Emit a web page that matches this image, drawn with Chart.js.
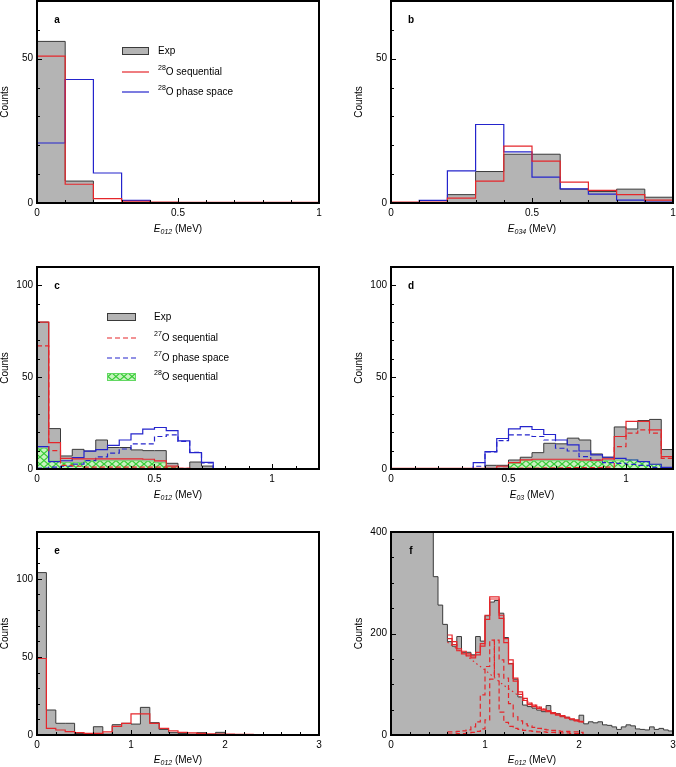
<!DOCTYPE html>
<html>
<head>
<meta charset="utf-8">
<script src="https://cdn.jsdelivr.net/npm/chart.js@4.4.1/dist/chart.umd.min.js"></script>
<style>
  html, body { margin: 0; padding: 0; background: #fff; }
  body { width: 676px; height: 767px; position: relative; overflow: hidden; }
  canvas { position: absolute; }
</style>
</head>
<body>
<canvas id="pa" width="338" height="240" style="left:0;top:0"></canvas>
<canvas id="pb" width="338" height="240" style="left:338px;top:0"></canvas>
<canvas id="pc" width="338" height="265" style="left:0;top:240px"></canvas>
<canvas id="pd" width="338" height="265" style="left:338px;top:240px"></canvas>
<canvas id="pe" width="338" height="262" style="left:0;top:505px"></canvas>
<canvas id="pf" width="338" height="262" style="left:338px;top:505px"></canvas>
<script>
// ---- data (counts per bin) ----
// a, b: 0.1 MeV bins from 0 to 1
const aExp = [56, 7.6, 0, 0, 0, 0, 0, 0, 0, 0];
const aSeq28 = [50.9, 6.5, 1.5, 0.6, 0.3, 0.2, 0.2, 0.2, 0.2, 0.2];
const aPhase28 = [20.8, 42.8, 10.4, 0.9, 0, 0, 0, 0, 0, 0];

const bExp = [0, 0, 2.9, 10.9, 16.9, 16.9, 4.8, 4.0, 4.8, 2.0];
const bSeq28 = [0.3, 0.3, 1.7, 7.6, 19.7, 14.5, 7.2, 4.4, 2.9, 1.0];
const bPhase28 = [0, 0.9, 11.1, 27.2, 17.7, 9.0, 4.9, 3.1, 1.0, 0.3];

// c, d: 0.05 MeV bins from 0 to 1.2
const cExp = [80, 22, 7.1, 10.7, 9.8, 15.8, 11.7, 11.7, 10.4, 10, 10, 3.1, 0, 3.8, 1.6, 0, 0, 0, 0, 0, 0, 0, 0, 0];
const cSeqSum = [80, 14.4, 5.8, 5.5, 5.5, 5.5, 5.5, 5.5, 5.5, 5.3, 4.4, 1.6, 0.3, 0.2, 0.2, 0.2, 0.2, 0.2, 0.2, 0.2, 0.2, 0.2, 0.2, 0.2];
const cSeq27 = [67, 10, 2, 1.5, 1, 1, 1, 1, 1, 1, 1, 0.6, 0.3, 0.2, 0.2, 0.2, 0.2, 0.2, 0.2, 0.2, 0.2, 0.2, 0.2, 0.2];
const cPhaseSum = [12.2, 4, 4.5, 6.2, 9.7, 10.5, 12.9, 15.8, 19.1, 21.7, 22.6, 20.9, 15.3, 8.9, 3.6, 0, 0, 0, 0, 0, 0, 0, 0, 0];
const cPhase27 = [0.5, 1, 1.5, 2.7, 4.6, 6.6, 8.6, 10.9, 13.7, 13.7, 17.7, 18.6, 15, 9, 3.3, 0, 0, 0, 0, 0, 0, 0, 0, 0];
const cSeq28 = [11.3, 4.4, 3.5, 3.5, 4.5, 4.5, 4.5, 4.5, 4.5, 4.3, 3.4, 1, 0, 0, 0, 0, 0, 0, 0, 0, 0, 0, 0, 0];

const dExp = [0, 0, 0, 0, 0, 0, 0, 0, 2, 2, 4.9, 6.4, 8.9, 14, 13.7, 16.8, 15.8, 8.2, 6.4, 22.9, 21.8, 26.4, 27, 10.6];
const dSeqSum = [0.3, 0.3, 0.3, 0.3, 0.3, 0.3, 0.3, 0.3, 0.3, 1.5, 3.5, 5, 5.3, 5.3, 5.3, 5.3, 5, 4.8, 5.5, 17.7, 25.9, 25.9, 21.3, 6.7];
const dSeq27 = [0.2, 0.2, 0.2, 0.2, 0.2, 0.2, 0.2, 0.2, 0.2, 0.3, 0.5, 0.5, 0.5, 0.6, 0.6, 0.7, 0.8, 0.8, 1, 12.2, 19.5, 21.3, 19.5, 5.8];
const dPhaseSum = [0, 0, 0, 0, 0, 0, 0, 3.5, 9.5, 16.6, 21.9, 23.1, 21.5, 18.8, 15.8, 13.1, 9.8, 7.7, 6.4, 5.8, 4.9, 4, 2.6, 0.9];
const dPhase27 = [0, 0, 0, 0, 0, 0, 0, 1.5, 9.3, 15.5, 18.6, 18.6, 17.7, 15.8, 11.3, 9.8, 6.7, 4.9, 3.5, 3.1, 2.5, 2, 0.9, 0.4];
const dSeq28 = [0, 0, 0, 0, 0, 0, 0, 0, 0, 0, 3, 4.5, 4.5, 4.5, 4.5, 4.5, 4.3, 4.2, 4.5, 4.8, 5, 4, 2.5, 0.5];

// e: 0.1 MeV bins from 0 to 3
const eExp = [104, 16, 7.5, 7.5, 1, 0.4, 5.3, 0.6, 6.6, 7.5, 7, 17.7, 7.9, 3.6, 1.5, 1, 0.5, 1.5, 0.3, 1.7, 0, 0, 0, 0, 0, 0, 0, 0, 0, 0];
const eSeq = [49, 4.3, 3.2, 2.1, 1.5, 1, 1, 2, 5.5, 7.5, 13.5, 13.5, 7.5, 4.3, 2.6, 1.7, 1.3, 1, 0.8, 0.6, 0.5, 0.4, 0.4, 0.3, 0.3, 0.3, 0.2, 0.2, 0.2, 0.2];

// f: 0.05 MeV bins from 0 to 3 (first bins run off the top of the axis)
const fExp = [560, 620, 640, 600, 560, 520, 480, 440, 410, 312, 256, 218, 184, 175, 194, 163, 163, 158, 194, 185,
  235, 262, 265, 240, 192, 141, 110, 75, 59, 56, 53, 49, 46, 58, 43, 42, 37, 35, 30, 29,
  39, 22, 26, 24, 26, 20, 19, 16, 11, 16, 20, 18, 12, 11, 10, 16, 11, 13, 10, 8];
// fits: 0.05 MeV bins from 0.6 to 2.05
const fFit1 = [197, 184, 170, 165, 160, 156, 163, 180, 236, 272, 272, 236, 190, 148, 112, 85, 72, 63, 59, 55, 51, 48, 44, 41, 38, 35, 32, 30, 27];
const fFit2 = [190, 178, 166, 160, 156, 152, 158, 175, 228, 268, 268, 230, 182, 140, 106, 80, 68, 60, 56, 52, 49, 46, 42, 39, 36, 33, 31, 28, 26];
const fPeakA = [6, 6, 7, 8, 10, 16, 26, 79, 135, 187, 120, 45, 25, 17, 13, 11, 9, 8, 7, 6, 6, 5, 5, 4, 4, 4, 3, 3, 3];
const fPeakB = [2, 2, 3, 3, 4, 5, 7, 12, 30, 110, 187, 148, 112, 62, 36, 28, 22, 18, 15, 13, 11, 10, 9, 8, 7, 7, 6, 6, 5];
const fBkgE = [0.6, 0.7, 0.8, 0.9, 1.0, 1.1, 1.2, 1.3, 1.4, 1.5, 1.6, 1.7, 1.8, 1.9, 2.0, 2.05];
const fBkg = [183, 170, 157, 142, 128, 113, 98, 85, 72, 62, 53, 45, 38, 32, 27, 25];

// ---- styles ----
Chart.defaults.font.family = "'Liberation Sans', Arial, sans-serif";
Chart.defaults.font.size = 10;
Chart.defaults.color = '#000';

const RED = '#e5262b', BLUE = '#2424cc', GRAY = '#b4b4b4';

function makeHatch() {
  const t = document.createElement('canvas');
  t.width = 8; t.height = 7;
  const g = t.getContext('2d');
  g.fillStyle = '#c8f2c0';
  g.fillRect(0, 0, 8, 7);
  g.strokeStyle = '#35cc35';
  g.lineWidth = 1.2;
  g.beginPath();
  g.moveTo(0, 0); g.lineTo(8, 7);
  g.moveTo(8, 0); g.lineTo(0, 7);
  g.stroke();
  return g.createPattern(t, 'repeat');
}
const hatch = makeHatch();

const sExp = { borderColor: '#3a3a3a', borderWidth: 1, backgroundColor: GRAY, fill: 'origin' };
const sRed = { borderColor: RED };
const sRedD = { borderColor: RED, borderDash: [5, 3] };
const sBlue = { borderColor: BLUE };
const sBlueD = { borderColor: BLUE, borderDash: [5, 3] };
const sGreen = { borderColor: '#62d862', borderWidth: 0.8, backgroundColor: hatch, fill: 'origin' };

function hist(x0, dx, counts, style) {
  const data = counts.map((c, i) => ({ x: x0 + i * dx, y: c }));
  data.push({ x: x0 + counts.length * dx, y: counts[counts.length - 1] });
  return Object.assign({ data, stepped: true, fill: false, pointRadius: 0, borderWidth: 1.2 }, style);
}

const isMajor = (v, m) => Math.abs(v / m - Math.round(v / m)) < 1e-6;
const fmt = v => String(Math.round(v * 100) / 100);

const legendA = { sx: 122, sw: 27, tx: 158, rows: [
  { y: 51, kind: 'box', text: [['Exp']] },
  { y: 72, kind: 'line', color: RED, text: [['28', 1], ['O sequential']] },
  { y: 92, kind: 'line', color: BLUE, text: [['28', 1], ['O phase space']] }
] };
const legendC = { sx: 107, sw: 29, tx: 154, rows: [
  { y: 77, kind: 'box', text: [['Exp']] },
  { y: 98, kind: 'dash', color: RED, text: [['27', 1], ['O sequential']] },
  { y: 118, kind: 'dash', color: BLUE, text: [['27', 1], ['O phase space']] },
  { y: 137, kind: 'hatch', text: [['28', 1], ['O sequential']] }
] };

const panels = [
  { id: 'pa', w: 338, h: 240, area: { l: 37, t: 1, r: 319, b: 203 }, tag: 'a', sub: '012', titleDy: 29,
    x: { max: 1, step: 0.1, major: 0.5 }, y: { max: 70, step: 10, major: 50 }, legend: legendA,
    datasets: [hist(0, 0.1, aSeq28, sRed), hist(0, 0.1, aPhase28, sBlue), hist(0, 0.1, aExp, sExp)] },
  { id: 'pb', w: 338, h: 240, area: { l: 53, t: 1, r: 335, b: 203 }, tag: 'b', sub: '034', titleDy: 29,
    x: { max: 1, step: 0.1, major: 0.5 }, y: { max: 70, step: 10, major: 50 },
    datasets: [hist(0, 0.1, bSeq28, sRed), hist(0, 0.1, bPhase28, sBlue), hist(0, 0.1, bExp, sExp)] },
  { id: 'pc', w: 338, h: 265, area: { l: 37, t: 27, r: 319, b: 229 }, tag: 'c', sub: '012', titleDy: 29,
    x: { max: 1.2, step: 0.1, major: 0.5 }, y: { max: 110, step: 10, major: 50 }, legend: legendC,
    datasets: [hist(0, 0.05, cSeqSum, sRed), hist(0, 0.05, cSeq27, sRedD), hist(0, 0.05, cPhaseSum, sBlue),
      hist(0, 0.05, cPhase27, sBlueD), hist(0, 0.05, cSeq28, sGreen), hist(0, 0.05, cExp, sExp)] },
  { id: 'pd', w: 338, h: 265, area: { l: 53, t: 27, r: 335, b: 229 }, tag: 'd', sub: '03', titleDy: 29,
    x: { max: 1.2, step: 0.1, major: 0.5 }, y: { max: 110, step: 10, major: 50 },
    datasets: [hist(0, 0.05, dSeqSum, sRed), hist(0, 0.05, dSeq27, sRedD), hist(0, 0.05, dPhaseSum, sBlue),
      hist(0, 0.05, dPhase27, sBlueD), hist(0, 0.05, dSeq28, sGreen), hist(0, 0.05, dExp, sExp)] },
  { id: 'pe', w: 338, h: 262, area: { l: 37, t: 27, r: 319, b: 230 }, tag: 'e', sub: '012', titleDy: 27.5,
    x: { max: 3, step: 0.2, major: 1 }, y: { max: 130, step: 10, major: 50 },
    datasets: [hist(0, 0.1, eSeq, sRed), hist(0, 0.1, eExp, sExp)] },
  { id: 'pf', w: 338, h: 262, area: { l: 53, t: 27, r: 335, b: 230 }, tag: 'f', sub: '012', titleDy: 27.5,
    x: { max: 3, step: 0.2, major: 1 }, y: { max: 400, step: 50, major: 200 },
    datasets: [hist(0.6, 0.05, fFit1, sRed), hist(0.6, 0.05, fFit2, sRed),
      hist(0.6, 0.05, fPeakA, sRedD), hist(0.6, 0.05, fPeakB, sRedD),
      { data: fBkgE.map((e, i) => ({ x: e, y: fBkg[i] })), borderColor: RED, borderWidth: 1.2,
        borderDash: [1.5, 3], pointRadius: 0, fill: false, cubicInterpolationMode: 'monotone' },
      hist(0, 0.05, fExp, sExp)] }
];

function richText(ctx, x, y, parts) {
  let cx = x;
  parts.forEach(([t, sup]) => {
    ctx.font = sup ? "7px 'Liberation Sans', Arial" : "10px 'Liberation Sans', Arial";
    ctx.fillText(t, cx, sup ? y - 3.5 : y);
    cx += ctx.measureText(t).width;
  });
}

function drawDecor(chart, p) {
  const ctx = chart.ctx, a = chart.chartArea, xs = chart.scales.x, ys = chart.scales.y;
  ctx.save();
  ctx.strokeStyle = '#000';
  ctx.fillStyle = '#000';
  // inward ticks
  ctx.lineWidth = 1;
  ctx.beginPath();
  xs.ticks.forEach(t => {
    const px = Math.round(xs.getPixelForValue(t.value)) + 0.5;
    const len = isMajor(t.value, p.x.major) ? 5 : 3;
    ctx.moveTo(px, a.bottom); ctx.lineTo(px, a.bottom - len);
  });
  ys.ticks.forEach(t => {
    const py = Math.round(ys.getPixelForValue(t.value)) + 0.5;
    const len = isMajor(t.value, p.y.major) ? 5 : 3;
    ctx.moveTo(a.left, py); ctx.lineTo(a.left + len, py);
  });
  ctx.stroke();
  // frame
  ctx.lineWidth = 2;
  ctx.strokeRect(a.left, a.top, a.right - a.left, a.bottom - a.top);
  // panel tag
  ctx.font = "bold 10px 'Liberation Sans', Arial";
  ctx.textAlign = 'center';
  ctx.textBaseline = 'middle';
  ctx.fillText(p.tag, a.left + 20, a.top + 19);
  // y title
  ctx.save();
  ctx.translate(a.left - 32, (a.top + a.bottom) / 2);
  ctx.rotate(-Math.PI / 2);
  ctx.font = "10px 'Liberation Sans', Arial";
  ctx.fillText('Counts', 0, 0);
  ctx.restore();
  // x title: E with italic subscript
  ctx.textAlign = 'left';
  ctx.textBaseline = 'alphabetic';
  const fE = "italic 10px 'Liberation Sans', Arial", fS = "italic 7px 'Liberation Sans', Arial", fN = "10px 'Liberation Sans', Arial";
  ctx.font = fE; const wE = ctx.measureText('E').width;
  ctx.font = fS; const wS = ctx.measureText(p.sub).width;
  ctx.font = fN; const wN = ctx.measureText(' (MeV)').width;
  let tx = (a.left + a.right) / 2 - (wE + wS + wN) / 2;
  const ty = a.bottom + p.titleDy;
  ctx.font = fE; ctx.fillText('E', tx, ty); tx += wE;
  ctx.font = fS; ctx.fillText(p.sub, tx, ty + 2); tx += wS;
  ctx.font = fN; ctx.fillText(' (MeV)', tx, ty);
  // legend
  const lg = p.legend;
  if (lg) {
    ctx.textBaseline = 'middle';
    lg.rows.forEach(r => {
      if (r.kind === 'box' || r.kind === 'hatch') {
        ctx.fillStyle = r.kind === 'box' ? GRAY : hatch;
        ctx.fillRect(lg.sx, r.y - 3.5, lg.sw, 7);
        ctx.lineWidth = 1;
        ctx.strokeStyle = r.kind === 'box' ? '#3a3a3a' : '#62d862';
        ctx.strokeRect(lg.sx + 0.5, r.y - 3.5, lg.sw - 1, 7);
      } else {
        ctx.lineWidth = 1.2;
        ctx.strokeStyle = r.color;
        ctx.setLineDash(r.kind === 'dash' ? [5, 3] : []);
        ctx.beginPath();
        ctx.moveTo(lg.sx, r.y); ctx.lineTo(lg.sx + lg.sw, r.y);
        ctx.stroke();
        ctx.setLineDash([]);
      }
      ctx.fillStyle = '#000';
      richText(ctx, lg.tx, r.y, r.text);
    });
  }
  ctx.restore();
}

panels.forEach(p => {
  new Chart(document.getElementById(p.id), {
    type: 'line',
    data: { datasets: p.datasets },
    options: {
      responsive: false,
      animation: false,
      devicePixelRatio: 1,
      events: [],
      layout: { padding: { left: 0, top: p.area.t, right: p.w - p.area.r, bottom: 0 } },
      plugins: { legend: { display: false }, tooltip: { enabled: false } },
      elements: { point: { radius: 0 }, line: { tension: 0 } },
      scales: {
        x: {
          type: 'linear', min: 0, max: p.x.max,
          grid: { display: false, drawTicks: false }, border: { display: false },
          ticks: { stepSize: p.x.step, maxTicksLimit: 100, autoSkip: false, maxRotation: 0, padding: 4,
            callback: v => isMajor(v, p.x.major) ? fmt(v) : '' },
          afterFit: s => { s.height = p.h - p.area.b; s.paddingLeft = 0; s.paddingRight = 0; }
        },
        y: {
          type: 'linear', min: 0, max: p.y.max,
          grid: { display: false, drawTicks: false }, border: { display: false },
          ticks: { stepSize: p.y.step, maxTicksLimit: 100, autoSkip: false, padding: 4,
            callback: v => isMajor(v, p.y.major) ? fmt(v) : '' },
          afterFit: s => { s.width = p.area.l; s.paddingTop = 0; s.paddingBottom = 0; }
        }
      }
    },
    plugins: [{ id: 'decor', afterDraw: c => drawDecor(c, p) }]
  });
});
</script>
</body>
</html>
